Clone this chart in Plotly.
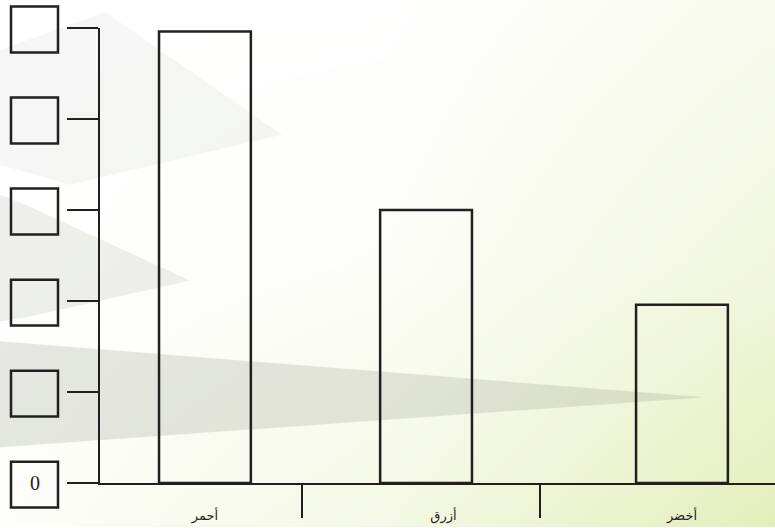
import plotly.graph_objects as go

# ---- data ----
categories = ["أحمر", "أزرق", "أخضر"]
values = [4.96, 3.0, 1.96]
y_tick_values = [0, 1, 2, 3, 4, 5]
y_tick_labels = ["0", "", "", "", "", ""]

W, H = 775, 528          # reference canvas
H_FIG = 538              # rendered height (capture is squeezed to 528)
K = H_FIG / H
INK = "#231f20"
Y_RANGE = [0, 5]
X_RANGE = [-0.44, 2.39]
DIVIDERS = [0.407, 1.405]   # separator ticks between the category labels
BAR_W = 0.385
BAR_SHIFT = [0, -0.073, 0]  # hand-drawn placement: middle bar sits a little left

fig = go.Figure()

# ---- decorative background: diagonal white -> pale green gradient ----
grad_x = [0, 0.5, 1]
grad_y = [0, 0.5, 1]
grad_z = [[0.08, 0.4, 1.0],   # bottom row
          [0.0, 0.1, 0.5],
          [0.0, 0.0, 0.25]]   # top row
fig.add_trace(go.Heatmap(
    x=grad_x, y=grad_y, z=grad_z, zsmooth="best", zmin=0, zmax=1,
    colorscale=[[0, "#ffffff"], [1, "#e3eebb"]], showscale=False,
    hoverinfo="skip", xaxis="x", yaxis="y"))

# ---- decorative translucent grey wedges (pixel outlines -> paper fractions) ----
wedges = [
    ([(0, 50), (105, 12), (282, 135), (70, 185), (0, 165)], "rgba(120,130,110,0.07)"),
    ([(0, 195), (25, 205), (190, 281), (25, 318), (0, 322)], "rgba(120,130,110,0.13)"),
    ([(0, 342), (705, 398), (0, 448)], "rgba(120,130,110,0.19)"),
]
for pts, col in wedges:
    xs = [p[0] / W for p in pts] + [pts[0][0] / W]
    ys = [1 - p[1] / H for p in pts] + [1 - pts[0][1] / H]
    fig.add_trace(go.Scatter(x=xs, y=ys, mode="lines", fill="toself",
                             fillcolor=col, line=dict(width=0),
                             hoverinfo="skip", xaxis="x", yaxis="y"))

# ---- the bar chart ----
fig.add_trace(go.Bar(
    x=categories, y=values, width=BAR_W,
    offset=[-BAR_W / 2 + s for s in BAR_SHIFT],
    marker=dict(color="rgba(0,0,0,0)", line=dict(color=INK, width=2.5)),
    hoverinfo="skip", xaxis="x2", yaxis="y2"))

# empty trace so the separator-tick axis is drawn
fig.add_trace(go.Scatter(x=[], y=[], xaxis="x3", yaxis="y2",
                         hoverinfo="skip", showlegend=False))

# empty answer boxes next to the y ticks
shapes = []
for v in y_tick_values:
    frac = (v - Y_RANGE[0]) / (Y_RANGE[1] - Y_RANGE[0])
    shapes.append(dict(
        type="rect", xref="paper", x0=11 / W, x1=58 / W,
        yref="y2 domain", ysizemode="pixel", yanchor=frac,
        y0=-24 * K, y1=21 * K,
        line=dict(color=INK, width=2.5), fillcolor="rgba(0,0,0,0)"))

fig.update_layout(
    width=W, height=H_FIG,
    margin=dict(l=0, r=0, t=0, b=0),
    paper_bgcolor="white",
    plot_bgcolor="rgba(0,0,0,0)",
    showlegend=False,
    shapes=shapes,
    xaxis=dict(domain=[0, 1], range=[0, 1], visible=False, fixedrange=True),
    yaxis=dict(domain=[0, 1], range=[0, 1], visible=False, fixedrange=True),
    xaxis2=dict(
        domain=[100 / W, 1], anchor="y2", type="category",
        range=X_RANGE,
        showline=True, linecolor=INK, linewidth=2,
        ticks="", showgrid=False,
        tickfont=dict(family="DejaVu Sans", size=13, color=INK),
        ticklabelstandoff=round(19 * K)),
    xaxis3=dict(
        overlaying="x2", anchor="y2", type="linear", range=X_RANGE,
        showline=False, showgrid=False, zeroline=False,
        showticklabels=False, tickmode="array", tickvals=DIVIDERS,
        ticks="outside", ticklen=round(33 * K), tickwidth=2, tickcolor=INK),
    yaxis2=dict(
        domain=[44 / H, 500 / H], anchor="x2", range=Y_RANGE,
        showline=True, linecolor=INK, linewidth=2,
        ticks="outside", ticklen=31, tickwidth=2, tickcolor=INK,
        tickmode="array", tickvals=y_tick_values, ticktext=y_tick_labels,
        showgrid=False, zeroline=False,
        tickfont=dict(family="Liberation Serif", size=20, color=INK),
        ticklabelstandoff=23),
)

fig.write_html(
    "out.html",
    config={"displayModeBar": False},
    post_script="document.body.style.margin='0';document.body.style.overflow='hidden';")
